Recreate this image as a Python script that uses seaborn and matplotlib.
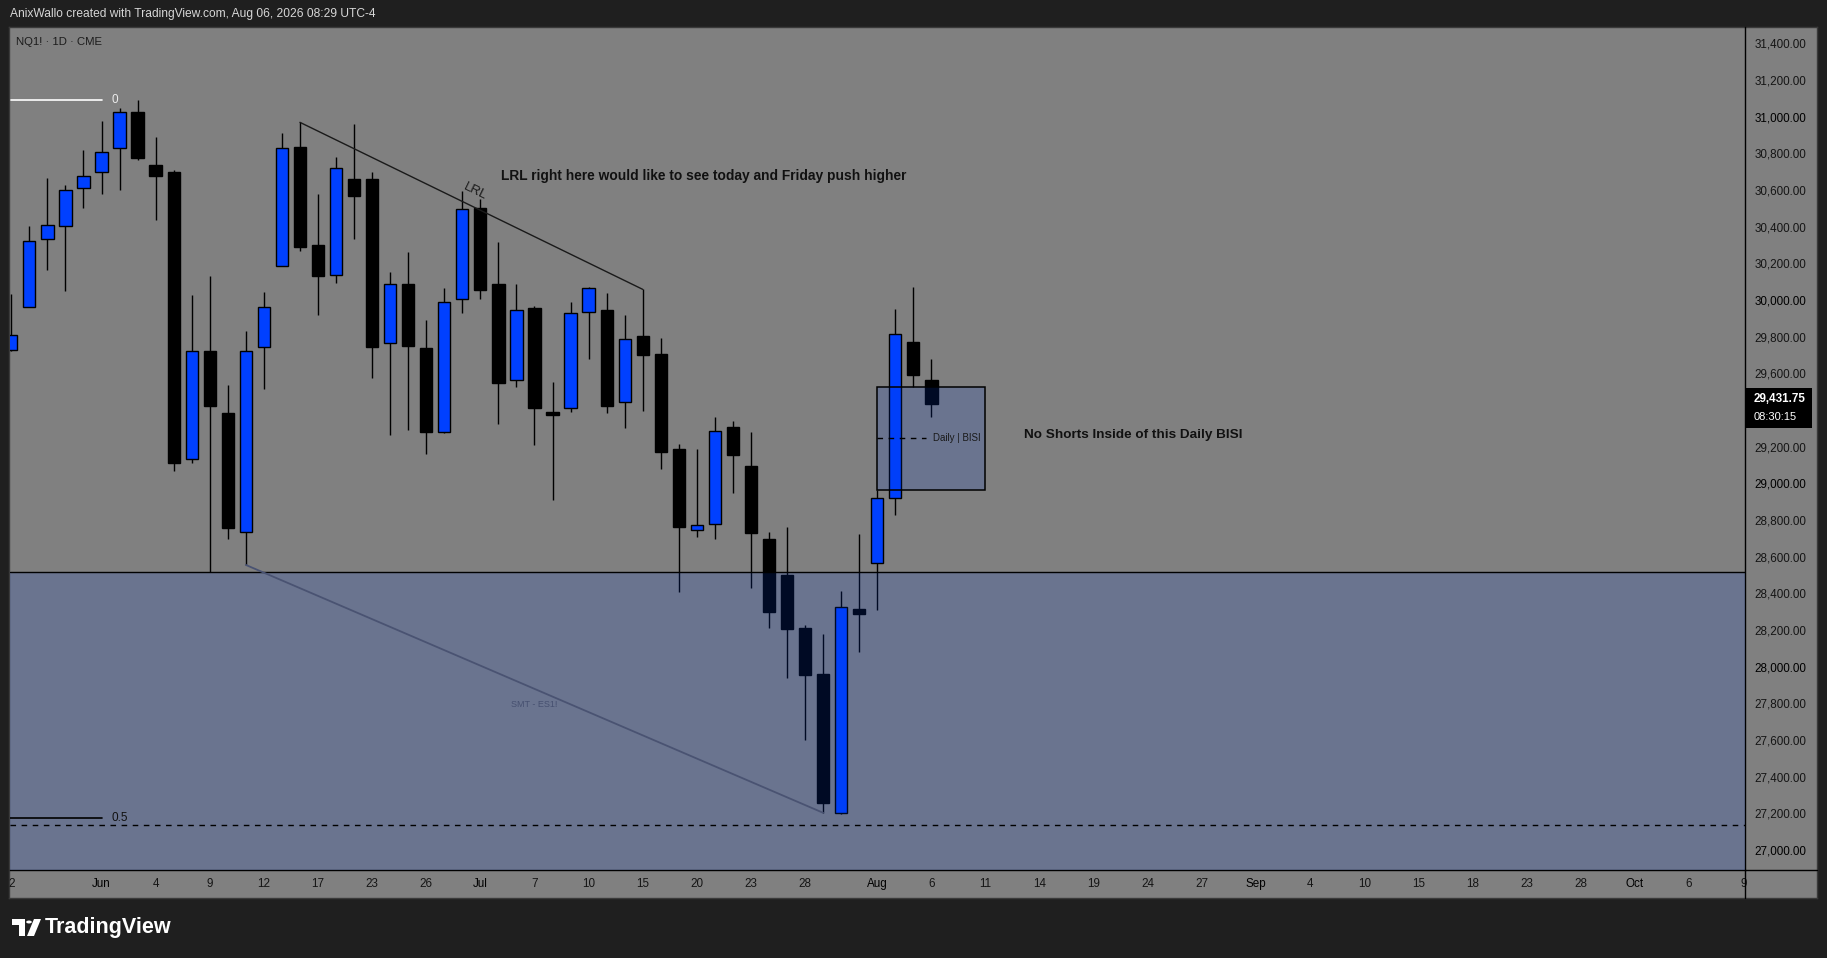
import numpy as np
import pandas as pd
import matplotlib
matplotlib.use("Agg")
import matplotlib.pyplot as plt
import seaborn as sns
from matplotlib.patches import Rectangle, Polygon, Circle
from matplotlib.lines import Line2D

sns.set_theme(style="white")
plt.rcParams['font.family'] = ['Liberation Sans', 'DejaVu Sans']

# ---------------- data (NQ1! daily candles) ----------------
opens = [29727, 29960, 30331, 30402, 30609, 30696, 30827, 31024, 30735, 30696,
         29131, 29720, 29384, 28736, 29742, 30184, 30833, 30298, 30135, 30658,
         30658, 29764, 30085, 29736, 29278, 30004, 30500, 30085, 29562, 29955,
         29389, 29409, 29933, 29945, 29442, 29804, 29705, 29187, 28744, 28776,
         29305, 29095, 28696, 28500, 28209, 27958, 27200, 28313, 28564, 28922,
         29771, 29564]
highs = [30032, 30404, 30665, 30627, 30818, 30976, 31045, 31091, 30889, 30709,
         30027, 30131, 29536, 29831, 30043, 30911, 30969, 30576, 30778, 30960,
         30696, 30151, 30262, 29891, 30064, 30595, 30551, 30315, 30087, 29965,
         29553, 29989, 30071, 30038, 29918, 30058, 29794, 29215, 29185, 29362,
         29340, 29280, 28735, 28762, 28225, 28176, 28411, 28722, 28963, 29949,
         30071, 29678]
lows = [29720, 29960, 30164, 30051, 30504, 30580, 30602, 30765, 30438, 29069,
        29113, 28515, 28698, 28555, 29516, 30184, 30269, 29920, 30094, 30334,
        29576, 29265, 29293, 29162, 29273, 29931, 30007, 29325, 29524, 29211,
        28911, 29391, 29676, 29385, 29304, 29396, 29080, 28407, 28709, 28698,
        28949, 28431, 28212, 27940, 27602, 27203, 27195, 28082, 28309, 28827,
        29524, 29364]
closes = [29807, 30323, 30407, 30598, 30675, 30805, 31024, 30776, 30678, 29113,
          29720, 29424, 28758, 29720, 29960, 30827, 30291, 30133, 30718, 30569,
          29745, 30089, 29751, 29278, 29987, 30494, 30056, 29545, 29944, 29413,
          29371, 29927, 30064, 29424, 29785, 29702, 29173, 28764, 28771, 29284,
          29156, 28731, 28300, 28207, 27956, 27254, 28327, 28286, 28922, 29813,
          29591, 29431.75]

xtick_pos = [0, 5, 8, 11, 14, 17, 20, 23, 26, 29, 32, 35, 38, 41, 44, 48, 51, 54,
             57, 60, 63, 66, 69, 72, 75, 78, 81, 84, 87, 90, 93, 96]
xtick_labels = ['2', 'Jun', '4', '9', '12', '17', '23', '26', 'Jul', '7', '10', '15',
                '20', '23', '28', 'Aug', '6', '11', '14', '19', '24', '27', 'Sep',
                '4', '10', '15', '18', '23', '28', 'Oct', '6', '9']
month_labels = {'Jun', 'Jul', 'Aug', 'Sep', 'Oct'}
price_ticks = [27000, 27200, 27400, 27600, 27800, 28000, 28200, 28400, 28600,
               28800, 29000, 29200, 29600, 29800, 30000, 30200, 30400, 30600,
               30800, 31000, 31200, 31400]

support_level = 28515      # horizontal line / zone top
fib0_level = 31091
fib05_level = 27173
dashed_level = 27135
bisi_low, bisi_high, bisi_mid = 28963, 29524, 29245
last_price = 29431.75

df = pd.DataFrame({"x": np.arange(len(opens)), "open": opens, "high": highs,
                   "low": lows, "close": closes})

# ---------------- figure ----------------
W, H = 1827, 958
fig = plt.figure(figsize=(W / 100, H / 100), dpi=100, facecolor='#1f1f1f')


def fr(x0, y0, x1, y1):
    return [x0 / W, 1 - y1 / H, (x1 - x0) / W, (y1 - y0) / H]


def fx(x):
    return x / W


def fy(y):
    return 1 - y / H


bg = fig.add_axes(fr(9, 27, 1817, 898))
bg.set_facecolor('#808080')
bg.set_xticks([])
bg.set_yticks([])
for s in bg.spines.values():
    s.set_color('#3a3a3a')
    s.set_linewidth(1)

ax = fig.add_axes(fr(10, 27, 1745, 870))
ax.set_facecolor('none')
ax.set_xlim(-0.072, 96.10)
ax.set_ylim(26891, 31489)

BLUE = '#0040ff'
bull = df['close'] >= df['open']
colors = np.where(bull, BLUE, '#000000')
body_bottom = np.minimum(df['open'], df['close'])
body_h = np.maximum(np.abs(df['close'] - df['open']), 14)

ax.vlines(df['x'], df['low'], df['high'], color='black', lw=1, zorder=2)
ax.bar(df['x'], body_h, bottom=body_bottom, width=0.68, color=colors,
       edgecolor='black', linewidth=1, zorder=3)

ZONE = (0.0, 0.24, 0.88, 0.165)
ax.axhspan(26000, support_level, facecolor=ZONE, edgecolor='none', zorder=4)
ax.axhline(support_level, color='black', lw=1, zorder=5)

ax.add_patch(Rectangle((48, bisi_low), 6, bisi_high - bisi_low, facecolor=ZONE,
                       edgecolor='black', lw=1.1, zorder=5))
ax.plot([48, 50.7], [bisi_mid, bisi_mid], color='black', lw=1, dashes=(4, 4), zorder=6)
ax.text(51.1, bisi_mid, 'Daily | BISI', fontsize=7, color='#1a1a1a', va='center',
        ha='left', zorder=6)

# trend lines
ax.plot([16, 35], [30969, 30058], color='#1a1a1a', lw=1, zorder=6)
ax.plot([13, 45], [28555, 27203], color='#4a5372', lw=1.3, zorder=6)
ax.text(29.0, 27792, 'SMT - ES1!', fontsize=6.5, color='#465070', ha='center',
        va='center', zorder=6)

# fib levels
ax.plot([-0.03, 5.01], [fib0_level, fib0_level], color='white', lw=1.2, zorder=6)
ax.text(5.55, fib0_level, '0', color='#ececec', fontsize=8.5, va='center', ha='left', zorder=6)
ax.plot([-0.07, 5.03], [fib05_level, fib05_level], color='black', lw=1.2, zorder=6)
ax.text(5.53, fib05_level, '0.5', color='#111111', fontsize=8.5, va='center', ha='left', zorder=6)
ax.axhline(dashed_level, color='black', lw=1, dashes=(4, 4), zorder=6)

# annotations
ax.text(27.16, 30678, 'LRL right here would like to see today and Friday push higher',
        fontsize=9.9, fontweight='bold', color='#111111', va='center', ha='left', zorder=7)
ax.text(56.15, 29263, 'No Shorts Inside of this Daily BISI', fontsize=9.7,
        fontweight='bold', color='#111111', va='center', ha='left', zorder=7)
ax.text(25.7, 30589, 'LRL', fontsize=9.5, color='#1a1a1a', rotation=-26,
        rotation_mode='anchor', ha='center', va='center', zorder=7)

# axes styling
ax.yaxis.tick_right()
ax.set_yticks(price_ticks)
ax.set_yticklabels([f'{v:,.2f}' for v in price_ticks])
ax.tick_params(axis='y', length=0, pad=7, labelsize=8.4, labelcolor='#151515')
for lab, v in zip(ax.get_yticklabels(), price_ticks):
    if v % 1000 == 0:
        lab.set_color('#000000')
ax.set_xticks(xtick_pos)
ax.set_xticklabels(xtick_labels)
ax.tick_params(axis='x', length=0, pad=6, labelsize=8.4, labelcolor='#151515')
for lab in ax.get_xticklabels():
    if lab.get_text() in month_labels:
        lab.set_color('#000000')
for side in ['top', 'left']:
    ax.spines[side].set_visible(False)
for side in ['right', 'bottom']:
    ax.spines[side].set_color('black')
    ax.spines[side].set_linewidth(1)
ax.grid(False)

fig.add_artist(Line2D([fx(1745), fx(1745)], [fy(870), fy(898)], color='black', lw=1))
fig.add_artist(Line2D([fx(1745), fx(1817)], [fy(870), fy(870)], color='black', lw=1))

# last price label
fig.add_artist(Rectangle((fx(1745), fy(427.7)), fx(1812) - fx(1745), fy(387.7) - fy(427.7),
                         transform=fig.transFigure, facecolor='black', edgecolor='none'))
fig.text(fx(1754), fy(399), f'{last_price:,.2f}', color='white', fontsize=8.4,
         fontweight='bold', va='center', ha='left')
fig.text(fx(1754), fy(417), '08:30:15', color='white', fontsize=8.0, va='center', ha='left')

# header texts
fig.text(fx(10), fy(14), 'AnixWallo created with TradingView.com, Aug 06, 2026 08:29 UTC-4',
         color='#d6d6d6', fontsize=8.65, va='center', ha='left')
fig.text(fx(16), fy(42), 'NQ1! \u00b7 1D \u00b7 CME', color='#1c1c1c', fontsize=8.2,
         va='center', ha='left')

# TradingView logo
tf = fig.transFigure
logo_pts = [(12, 919), (25, 919), (25, 936), (19, 936), (19, 925), (12, 925)]
fig.add_artist(Polygon([(fx(a), fy(b)) for a, b in logo_pts], closed=True,
                       transform=tf, facecolor='white', edgecolor='none'))
fig.add_artist(Circle((fx(29), fy(922)), 2.8 / W, transform=tf, facecolor='white',
                      edgecolor='none'))
slash = [(34, 919), (41, 919), (34, 936), (27, 936)]
fig.add_artist(Polygon([(fx(a), fy(b)) for a, b in slash], closed=True,
                       transform=tf, facecolor='white', edgecolor='none'))
fig.text(fx(45), fy(928), 'TradingView', color='white', fontsize=15.5,
         fontweight='bold', va='center', ha='left')

fig.savefig('out.png', dpi=100, facecolor=fig.get_facecolor())
